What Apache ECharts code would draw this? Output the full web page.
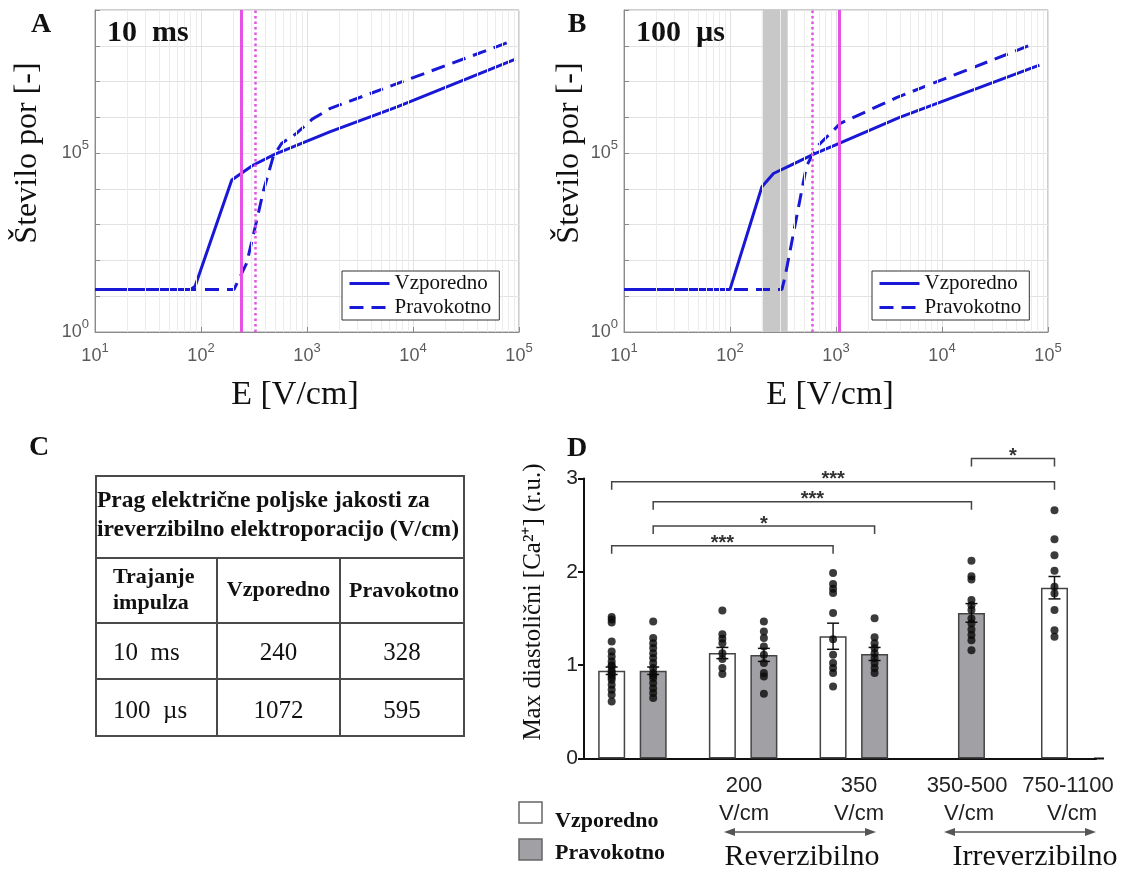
<!DOCTYPE html>
<html><head><meta charset="utf-8">
<script src="https://cdn.jsdelivr.net/npm/echarts@6/dist/echarts.min.js"></script>
<style>html,body{margin:0;padding:0;background:#fff}#c{width:1124px;height:879px}</style>
</head><body><div id="c"></div><script>
// ---------------- DATA ----------------
// Panel A (10 ms): number of pores vs field strength
const A_par_E  = [10, 80, 88, 195, 309, 500, 1660, 7080, 91600];
const A_par_N  = [15.5, 15.5, 19, 17800, 45700, 93300, 398000, 1950000, 41700000];
const A_perp_E = [10, 205, 269, 309, 390, 480, 575, 795, 1120, 1660, 87000];
const A_perp_N = [15.5, 15.5, 83, 457, 9330, 79400, 186000, 355000, 891000, 1780000, 138000000];
// Panel B (100 µs)
const B_par_E  = [10, 100, 200, 257, 372, 617, 1072, 3980, 83000];
const B_par_N  = [15.5, 15.5, 11500, 26900, 45700, 93300, 186000, 1000000, 28800000];
const B_perp_E = [10, 309, 331, 525, 617, 661, 1100, 3720, 74000];
const B_perp_N = [15.5, 15.5, 35.5, 41700, 110000, 151000, 676000, 3550000, 115000000];
// Panel C table
const pulseDurations = ['10  ms', '100  \u00b5s'];
const thresholdParallel = [240, 1072];
const thresholdPerpendicular = [328, 595];
const reversibleBand = [200, 350];
// Panel D
const dOrient = ['Vzporedno','Pravokotno','Vzporedno','Pravokotno','Vzporedno','Pravokotno','Pravokotno','Vzporedno'];
const dMeans = [0.94, 0.94, 1.13, 1.11, 1.31, 1.12, 1.56, 1.83];
const dSem   = [0.04, 0.04, 0.06, 0.07, 0.14, 0.07, 0.10, 0.12];
const dPoints = [
  [1.515, 1.49, 1.458, 1.254, 1.147, 1.094, 1.04, 1.0, 0.986, 0.94, 0.92, 0.897, 0.87, 0.844, 0.79, 0.737, 0.683, 0.611],
  [1.468, 1.29, 1.236, 1.183, 1.129, 1.076, 1.022, 0.969, 0.915, 0.89, 0.862, 0.808, 0.754, 0.701, 0.647],
  [1.586, 1.332, 1.282, 1.236, 1.129, 1.065, 0.969, 0.905],
  [1.468, 1.361, 1.29, 1.201, 1.111, 1.022, 0.915, 0.879, 0.694],
  [1.987, 1.87, 1.82, 1.772, 1.558, 1.279, 1.111, 1.022, 0.969, 0.915, 0.772],
  [1.504, 1.30, 1.236, 1.183, 1.129, 1.076, 1.022, 0.969, 0.915],
  [2.118, 1.954, 1.918, 1.697, 1.643, 1.59, 1.501, 1.447, 1.383, 1.322, 1.268, 1.161],
  [2.661, 2.35, 2.179, 2.011, 1.84, 1.768, 1.59, 1.375, 1.304]
];
const dSignif = [[0, 4, '***'], [1, 5, '*'], [1, 6, '***'], [0, 7, '***'], [6, 7, '*']];
const dGroupLabels = ['200', '350', '350-500', '750-1100'];
const dUnit = 'V/cm';

// ---------------- LAYOUT ----------------
const slotOf = [2, 5, 10, 13, 18, 21, 28, 34];
const NSLOT = 38;
const bracketLevel = [2.28, 2.49, 2.75, 2.965, 3.215];

const SERIF = 'Liberation Serif';
const SANS = 'Liberation Sans';
const BLUE = '#1818d6';
const MAG = '#e552e5';

const zip = (a, b) => a.map((v, i) => [v, b[i]]);
const minorE = [];
for (let k = 1; k < 5; k++) for (let m = 2; m < 10; m++) minorE.push(m * Math.pow(10, k));

function powLabel(v) {
  const e = Math.round(Math.log10(v));
  return '{b|10}{s|' + e + '}';
}
const richPow = {
  b: {fontSize: 18, fontFamily: SANS, color: '#5a5a5a', lineHeight: 28},
  s: {fontSize: 13, fontFamily: SANS, color: '#5a5a5a', verticalAlign: 'top', lineHeight: 15}
};

function logX(grid) {
  return {
    gridIndex: grid, type: 'log', logBase: 10, min: 10, max: 100000,
    axisLine: {lineStyle: {color: '#8a8a8a', width: 1}},
    axisTick: {inside: true, length: 5, lineStyle: {color: '#8a8a8a'}},
    splitLine: {show: true, lineStyle: {color: '#e2e2e2', width: 1}},
    axisLabel: {formatter: powLabel, rich: richPow, margin: 10}
  };
}
function logY(grid) {
  return {
    gridIndex: grid, type: 'log', logBase: 10, min: 1, max: 1e9, splitNumber: 9,
    axisLine: {lineStyle: {color: '#8a8a8a', width: 1}},
    axisTick: {inside: true, length: 5, lineStyle: {color: '#8a8a8a'}},
    splitLine: {show: true, lineStyle: {color: '#e2e2e2', width: 1}},
    axisLabel: {
      formatter: v => (Math.round(Math.log10(v)) % 5 === 0 ? powLabel(v) : ''),
      rich: richPow, margin: 6
    }
  };
}

function helperSeries(grid, withBand) {
  const s = {
    type: 'line', xAxisIndex: grid, yAxisIndex: grid, data: [[10, 1]], symbol: 'none',
    lineStyle: {opacity: 0}, silent: true, z: 1,
    markLine: {
      silent: true, symbol: 'none', label: {show: false},
      lineStyle: {color: '#ececec', width: 1, type: 'solid'},
      data: minorE.map(v => ({xAxis: v}))
    }
  };
  if (withBand) {
    s.markArea = {silent: true, itemStyle: {color: '#c8c8c8'},
      data: [[{xAxis: reversibleBand[0]}, {xAxis: reversibleBand[1]}]]};
  }
  return s;
}
function curve(grid, E, N, dashed, thr) {
  return {
    name: dashed ? 'Pravokotno' : 'Vzporedno',
    type: 'line', xAxisIndex: grid, yAxisIndex: grid, data: zip(E, N),
    symbol: 'none', z: 4,
    lineStyle: {color: BLUE, width: 3, type: dashed ? [14, 8] : 'solid'},
    itemStyle: {color: BLUE},
    markLine: {
      silent: true, symbol: 'none', label: {show: false},
      lineStyle: {color: MAG, width: dashed ? 2.5 : 3, type: dashed ? [2.5, 3] : 'solid'},
      data: [{xAxis: thr}]
    }
  };
}

// Panel D series data
const cats = Array.from({length: NSLOT}, (_, i) => 's' + i);
const barV = new Array(NSLOT).fill('-');
const barP = new Array(NSLOT).fill('-');
dMeans.forEach((m, i) => { (dOrient[i] === 'Vzporedno' ? barV : barP)[slotOf[i]] = m; });
const dots = [];
dPoints.forEach((arr, i) => arr.forEach(v => dots.push([slotOf[i], v])));
const errData = dMeans.map((m, i) => [slotOf[i], m - dSem[i], m + dSem[i]]);
const brData = dSignif.map((s, k) => [slotOf[s[0]], slotOf[s[1]], bracketLevel[k]]);

function legendCfg(left) {
  return {
    left: left, top: 271, orient: 'vertical', data: ['Vzporedno', 'Pravokotno'], z: 20,
    itemWidth: 40, itemHeight: 14, itemGap: 3, padding: [2, 8, 2, 6],
    itemStyle: {opacity: 0, color: 'rgba(0,0,0,0)', borderWidth: 0},
    lineStyle: {width: 3},
    borderColor: '#333', borderWidth: 1, backgroundColor: '#fff', selectedMode: false,
    textStyle: {fontFamily: SERIF, fontSize: 21, color: '#111'}
  };
}

function txt(x, y, text, o) {
  o = o || {};
  return {
    type: 'text', x: x, y: y, rotation: o.rot || 0, z: 100,
    style: {
      text: text, fill: o.color || '#111', fontFamily: o.family || SERIF,
      fontSize: o.size || 20, fontWeight: o.weight || 'normal',
      align: o.align || 'left', verticalAlign: o.va || 'middle'
    }
  };
}
function ln(x1, y1, x2, y2, color, w) {
  return {type: 'line', z: 100, shape: {x1, y1, x2, y2}, style: {stroke: color || '#4a4a4a', lineWidth: w || 2}};
}
function arrow(x1, x2, y) {
  const c = '#555';
  return [
    ln(x1 + 4, y, x2 - 4, y, c, 1.5),
    {type: 'polygon', z: 100, shape: {points: [[x1, y], [x1 + 11, y - 4], [x1 + 11, y + 4]]}, style: {fill: c}},
    {type: 'polygon', z: 100, shape: {points: [[x2, y], [x2 - 11, y - 4], [x2 - 11, y + 4]]}, style: {fill: c}}
  ];
}

// table graphics
const T = {x0: 96, x1: 217, x2: 340, x3: 464, y0: 476, y1: 558, y2: 623, y3: 679, y4: 736};
const tableG = [
  {type: 'rect', z: 90, shape: {x: T.x0, y: T.y0, width: T.x3 - T.x0, height: T.y4 - T.y0}, style: {fill: '#fff', stroke: '#4a4a4a', lineWidth: 2}},
  ln(T.x0, T.y1, T.x3, T.y1), ln(T.x0, T.y2, T.x3, T.y2), ln(T.x0, T.y3, T.x3, T.y3),
  ln(T.x1, T.y1, T.x1, T.y4), ln(T.x2, T.y1, T.x2, T.y4),
  txt(97, 501, 'Prag električne poljske jakosti za', {size: 23.5, weight: 'bold'}),
  txt(97, 530, 'ireverzibilno elektroporacijo (V/cm)', {size: 23.5, weight: 'bold'}),
  txt(113, 577, 'Trajanje', {size: 22, weight: 'bold'}),
  txt(113, 603, 'impulza', {size: 22, weight: 'bold'}),
  txt((T.x1 + T.x2) / 2, 590, 'Vzporedno', {size: 22, weight: 'bold', align: 'center'}),
  txt((T.x2 + T.x3) / 2 + 2, 591, 'Pravokotno', {size: 22, weight: 'bold', align: 'center'})
];
pulseDurations.forEach((d, i) => {
  const y = i === 0 ? 653 : 711;
  tableG.push(txt(113, y, d, {size: 25}));
  tableG.push(txt((T.x1 + T.x2) / 2, y, String(thresholdParallel[i]), {size: 25, align: 'center'}));
  tableG.push(txt((T.x2 + T.x3) / 2, y, String(thresholdPerpendicular[i]), {size: 25, align: 'center'}));
});

const graphics = [].concat(
  [
    txt(41, 25, 'A', {size: 28, weight: 'bold', align: 'center'}),
    txt(577, 25, 'B', {size: 28, weight: 'bold', align: 'center'}),
    txt(39, 448, 'C', {size: 28, weight: 'bold', align: 'center'}),
    txt(577, 449, 'D', {size: 28, weight: 'bold', align: 'center'}),
    txt(107, 33, '10  ms', {size: 30, weight: 'bold'}),
    txt(636, 33, '100  \u00b5s', {size: 30, weight: 'bold'}),
    txt(28, 153, 'Število por [-]', {size: 32, rot: Math.PI / 2, align: 'center'}),
    txt(570, 153, 'Število por [-]', {size: 32, rot: Math.PI / 2, align: 'center'}),
    txt(295, 395, 'E [V/cm]', {size: 34, align: 'center'}),
    txt(830, 395, 'E [V/cm]', {size: 34, align: 'center'}),
    txt(533, 602, 'Max diastolični [Ca\u00b2\u207a] (r.u.)', {size: 25, rot: Math.PI / 2, align: 'center'}),
    ln(1094, 758.5, 1104, 758.5, '#111', 2),
    // D legend
    {type: 'rect', z: 100, shape: {x: 519, y: 802, width: 23, height: 21}, style: {fill: '#fff', stroke: '#666', lineWidth: 1.5}},
    {type: 'rect', z: 100, shape: {x: 519, y: 839, width: 23, height: 21}, style: {fill: '#a0a0a5', stroke: '#666', lineWidth: 1.5}},
    txt(555, 821, 'Vzporedno', {size: 22, weight: 'bold'}),
    txt(555, 853, 'Pravokotno', {size: 22, weight: 'bold'}),
    // D group labels
    txt(744, 786, dGroupLabels[0], {size: 22, family: SANS, align: 'center', color: '#222'}),
    txt(744, 814, dUnit, {size: 22, family: SANS, align: 'center', color: '#222'}),
    txt(859, 786, dGroupLabels[1], {size: 22, family: SANS, align: 'center', color: '#222'}),
    txt(859, 814, dUnit, {size: 22, family: SANS, align: 'center', color: '#222'}),
    txt(967, 786, dGroupLabels[2], {size: 22, family: SANS, align: 'center', color: '#222'}),
    txt(969, 814, dUnit, {size: 22, family: SANS, align: 'center', color: '#222'}),
    txt(1068, 786, dGroupLabels[3], {size: 22, family: SANS, align: 'center', color: '#222'}),
    txt(1072, 814, dUnit, {size: 22, family: SANS, align: 'center', color: '#222'}),
    txt(802, 857, 'Reverzibilno', {size: 30, align: 'center'}),
    txt(1035, 857, 'Irreverzibilno', {size: 30, align: 'center'})
  ],
  arrow(724, 876, 832),
  arrow(944, 1096, 832),
  tableG
);

const chart = echarts.init(document.getElementById('c'), null, {renderer: 'canvas'});
chart.setOption({
  animation: false,
  backgroundColor: '#fff',
  grid: [
    {left: 95, top: 10, width: 424, height: 322, show: true, borderColor: '#9a9a9a', borderWidth: 1, backgroundColor: 'transparent'},
    {left: 624, top: 10, width: 424, height: 322, show: true, borderColor: '#9a9a9a', borderWidth: 1, backgroundColor: 'transparent'},
    {left: 584, top: 478.5, width: 512, height: 280}
  ],
  legend: [legendCfg(342), legendCfg(872)],
  xAxis: [
    logX(0), logX(1),
    {gridIndex: 2, type: 'category', data: cats, boundaryGap: false,
      axisLine: {lineStyle: {color: '#111', width: 2}}, axisTick: {show: false}, axisLabel: {show: false}}
  ],
  yAxis: [
    logY(0), logY(1),
    {gridIndex: 2, type: 'value', min: 0, max: 3, interval: 1,
      axisLine: {show: true, lineStyle: {color: '#111', width: 2}},
      axisTick: {show: true, length: 6, lineStyle: {color: '#111', width: 2}},
      axisLabel: {fontSize: 21, fontFamily: SANS, color: '#222', margin: 6},
      splitLine: {show: false}}
  ],
  series: [
    helperSeries(0, false),
    curve(0, A_par_E, A_par_N, false, thresholdParallel[0]),
    curve(0, A_perp_E, A_perp_N, true, thresholdPerpendicular[0]),
    helperSeries(1, true),
    curve(1, B_par_E, B_par_N, false, thresholdParallel[1]),
    curve(1, B_perp_E, B_perp_N, true, thresholdPerpendicular[1]),
    {type: 'bar', xAxisIndex: 2, yAxisIndex: 2, data: barV, barWidth: 27, barGap: '-100%',
      itemStyle: {color: '#fff', borderColor: '#444', borderWidth: 1.5}, z: 2},
    {type: 'bar', xAxisIndex: 2, yAxisIndex: 2, data: barP, barWidth: 27, barGap: '-100%',
      itemStyle: {color: '#a0a0a5', borderColor: '#444', borderWidth: 1.5}, z: 2},
    {type: 'custom', xAxisIndex: 2, yAxisIndex: 2, data: errData, encode: {x: 0, y: [1, 2]}, z: 3,
      renderItem: function (params, api) {
        const lo = api.coord([api.value(0), api.value(1)]);
        const hi = api.coord([api.value(0), api.value(2)]);
        const st = {stroke: '#111', lineWidth: 1.5};
        return {type: 'group', children: [
          {type: 'line', shape: {x1: lo[0], y1: lo[1], x2: hi[0], y2: hi[1]}, style: st},
          {type: 'line', shape: {x1: hi[0] - 6, y1: hi[1], x2: hi[0] + 6, y2: hi[1]}, style: st},
          {type: 'line', shape: {x1: lo[0] - 6, y1: lo[1], x2: lo[0] + 6, y2: lo[1]}, style: st}
        ]};
      }},
    {type: 'scatter', xAxisIndex: 2, yAxisIndex: 2, data: dots, symbolSize: 8,
      itemStyle: {color: '#0a0a0a'}, z: 5},
    {type: 'custom', xAxisIndex: 2, yAxisIndex: 2, data: brData, encode: {x: [0, 1], y: 2}, clip: false, z: 6,
      renderItem: function (params, api) {
        const a = api.coord([api.value(0), api.value(2)]);
        const b = api.coord([api.value(1), api.value(2)]);
        const drop = 8;
        const label = dSignif[params.dataIndex][2];
        return {type: 'group', children: [
          {type: 'polyline', shape: {points: [[a[0], a[1] + drop], [a[0], a[1]], [b[0], b[1]], [b[0], b[1] + drop]]},
            style: {stroke: '#444', lineWidth: 1.5, fill: null}},
          {type: 'text', x: (a[0] + b[0]) / 2, y: a[1] - 2,
            style: {text: label, fontSize: 20, fontFamily: SANS, fontWeight: 'bold', fill: '#333', align: 'center', verticalAlign: 'middle'}}
        ]};
      }}
  ],
  graphic: graphics
});
</script></body></html>
